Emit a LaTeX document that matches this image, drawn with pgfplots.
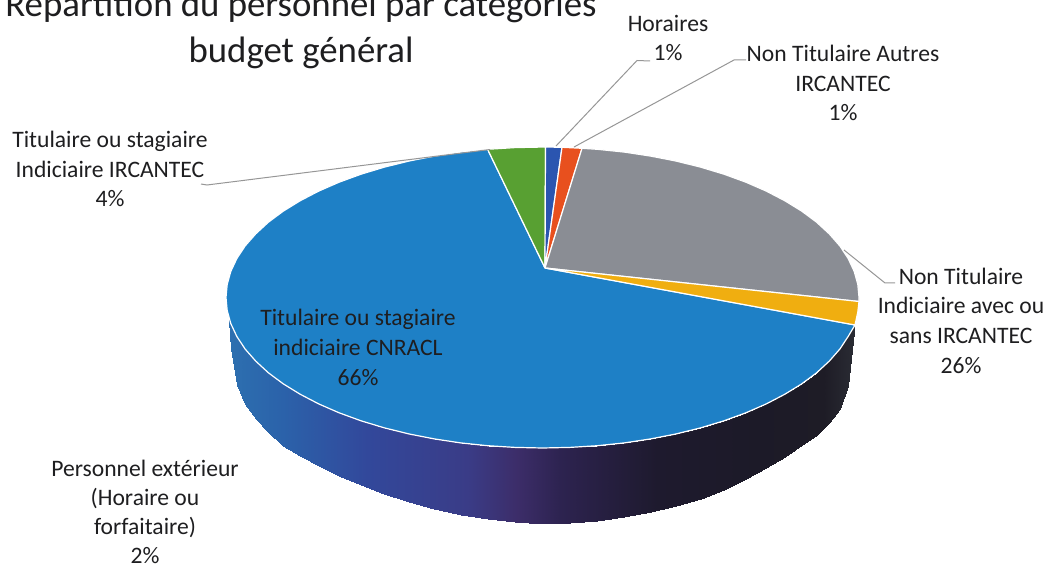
\documentclass[border=0pt]{standalone}
\usepackage{pgfplots}
\pgfplotsset{compat=1.18}
\usepackage{fontspec}
\setmainfont{Carlito}
\definecolor{topblue}{RGB}{30,128,198}
\definecolor{green3d}{RGB}{88,160,50}
\definecolor{hblue}{RGB}{43,85,176}
\definecolor{red3d}{RGB}{232,80,30}
\definecolor{gray3d}{RGB}{138,141,148}
\definecolor{yellow3d}{RGB}{240,174,16}
\definecolor{leader}{RGB}{150,150,150}
\definecolor{ink}{RGB}{30,30,32}
\pgfplotsset{colormap={side}{rgb255(0pt)=(45,112,176); rgb255(55pt)=(43,98,170); rgb255(139pt)=(50,72,155); rgb255(239pt)=(58,60,135); rgb255(289pt)=(60,45,105); rgb255(332pt)=(45,35,80); rgb255(429pt)=(30,26,46); rgb255(529pt)=(28,26,40); rgb255(596pt)=(30,28,38); rgb255(627pt)=(42,44,52)}}
\newcommand{\lab}{\fontsize{11.8}{14.8}\selectfont}
\begin{document}
\begin{tikzpicture}
\path[use as bounding box,clip] (0,0) rectangle (524pt,283pt);
\begin{axis}[at={(0,0)},anchor=south west,width=524pt,height=283pt,scale only axis,hide axis,
  xmin=0,xmax=1048,ymin=0,ymax=566,y dir=reverse,colormap name=side,point meta min=228,point meta max=855]
% side wall
\addplot[patch,patch type=rectangle,shader=interp,point meta=x] coordinates {
(228.5,317)(230.8,323.6)(230.8,349)(228.5,320)
(230.8,323.6)(236.8,336.4)(236.8,385)(230.8,349)
(236.8,336.4)(245.1,349)(245.1,404)(236.8,385)
(245.1,349)(255.7,361.1)(255.7,419)(245.1,404)
(255.7,361.1)(268.4,372.8)(268.4,432)(255.7,419)
(268.4,372.8)(283.2,383.8)(283.2,446)(268.4,432)
(283.2,383.8)(300.1,394.2)(300.1,456)(283.2,446)
(300.1,394.2)(318.7,403.9)(318.7,466)(300.1,456)
(318.7,403.9)(339.1,412.8)(339.1,476)(318.7,466)
(339.1,412.8)(361,420.8)(361,485)(339.1,476)
(361,420.8)(384.2,427.8)(384.2,494)(361,485)
(384.2,427.8)(408.7,433.9)(408.7,502)(384.2,494)
(408.7,433.9)(434.3,438.9)(434.3,509)(408.7,502)
(434.3,438.9)(460.6,442.9)(460.6,515)(434.3,509)
(460.6,442.9)(487.6,445.7)(487.6,519)(460.6,515)
(487.6,445.7)(514.9,447.4)(514.9,522)(487.6,519)
(514.9,447.4)(542.5,448)(542.5,523.5)(514.9,522)
(542.5,448)(570.1,447.4)(570.1,523)(542.5,523.5)
(570.1,447.4)(597.4,445.7)(597.4,520.5)(570.1,523)
(597.4,445.7)(624.4,442.9)(624.4,517)(597.4,520.5)
(624.4,442.9)(650.7,438.9)(650.7,512)(624.4,517)
(650.7,438.9)(676.3,433.9)(676.3,506)(650.7,512)
(676.3,433.9)(700.8,427.8)(700.8,498.5)(676.3,506)
(700.8,427.8)(724,420.8)(724,490)(700.8,498.5)
(724,420.8)(745.9,412.8)(745.9,479)(724,490)
(745.9,412.8)(766.3,403.9)(766.3,468)(745.9,479)
(766.3,403.9)(784.9,394.2)(784.9,457)(766.3,468)
(784.9,394.2)(801.8,383.8)(801.8,445)(784.9,457)
(801.8,383.8)(816.6,372.8)(816.6,435)(801.8,445)
(816.6,372.8)(829.3,361.1)(829.3,423)(816.6,435)
(829.3,361.1)(839.9,349)(839.9,409)(829.3,423)
(839.9,349)(848.2,336.4)(848.2,386)(839.9,409)
(848.2,336.4)(854.2,323.6)(854.2,332)(848.2,386)
};
% top: CNRACL 66%
\addplot[fill=topblue,draw=white,line width=0.6pt] coordinates {
(545,268)(855,325)(848.2,336.4)(839.9,349)(829.3,361.1)(816.6,372.8)(801.8,383.8)(784.9,394.2)(766.3,403.9)(745.9,412.8)(724,420.8)(700.8,427.8)(676.3,433.9)(650.7,438.9)(624.4,442.9)(597.4,445.7)(570.1,447.4)(542.5,448)(514.9,447.4)(487.6,445.7)(460.6,442.9)(434.3,438.9)(408.7,433.9)(384.2,427.8)(361,420.8)(339.1,412.8)(318.7,403.9)(300.1,394.2)(283.2,383.8)(268.4,372.8)(255.7,361.1)(245.1,349)(236.8,336.4)(230.8,323.6)(227.2,310.6)(226,297.5)(227.2,284.4)(230.8,271.4)(236.8,258.6)(245.1,246)(255.7,233.9)(268.4,222.2)(283.2,211.2)(300.1,200.8)(318.7,191.1)(339.1,182.2)(361,174.2)(384.2,167.2)(408.7,161.1)(434.3,156.1)(460.6,152.1)(487.6,149.3)(545,268)};
% IRCANTEC 4%
\addplot[fill=green3d,draw=white,line width=0.6pt] coordinates {(545,268)(487.6,149.3)(514.9,147.6)(545.5,147)(545,268)};
% Horaires 1%
\addplot[fill=hblue,draw=white,line width=0.6pt] coordinates {(545,268)(545.5,147)(562,147.3)(545,268)};
% Non titulaire autres 1%
\addplot[fill=red3d,draw=white,line width=0.6pt] coordinates {(545,268)(562,147.3)(582,148.3)(545,268)};
% Non titulaire indiciaire 26%
\addplot[fill=gray3d,draw=white,line width=0.6pt] coordinates {
(545,268)(582,148.3)(597.4,149.3)(624.4,152.1)(650.7,156.1)(676.3,161.1)(700.8,167.2)(724,174.2)(745.9,182.2)(766.3,191.1)(784.9,200.8)(801.8,211.2)(816.6,222.2)(829.3,233.9)(839.9,246)(848.2,258.6)(854.2,271.4)(857.8,284.4)(859,297.5)(859,301.5)(545,268)};
% Personnel exterieur 2%
\addplot[fill=yellow3d,draw=white,line width=0.6pt] coordinates {(545,268)(859,301.5)(857.8,312)(855,325)(545,268)};
% leaders
\addplot[leader,line width=0.5pt] coordinates {(556,146)(637,60.5)(650,61)};
\addplot[leader,line width=0.5pt] coordinates {(574,147)(734,60)(746,60)};
\addplot[leader,line width=0.5pt] coordinates {(201,184)(207,185)(390,162)(490,149.5)};
\addplot[leader,line width=0.5pt] coordinates {(844,250)(885,283)(895,283)};
% texts
\node[anchor=base,align=center,text=ink,font=\fontsize{18.4}{23}\selectfont] at (axis cs:301,63) {Répartition du personnel par catégories\\budget général};
\node[anchor=base,align=center,text=ink,font=\lab] at (axis cs:668,61) {Horaires\\1\%};
\node[anchor=base,align=center,text=ink,font=\lab] at (axis cs:843,121) {Non Titulaire Autres\\IRCANTEC\\1\%};
\node[anchor=base,align=center,text=ink,font=\lab] at (axis cs:110,207) {Titulaire ou stagiaire\\Indiciaire IRCANTEC\\4\%};
\node[anchor=base,align=center,text=ink,font=\lab] at (axis cs:358,385) {Titulaire ou stagiaire\\indiciaire CNRACL\\66\%};
\node[anchor=base,align=center,text=ink,font=\fontsize{11.8}{14.5}\selectfont] at (axis cs:145,563) {Personnel extérieur\\(Horaire ou\\forfaitaire)\\2\%};
\node[anchor=base,align=center,text=ink,font=\lab] at (axis cs:961,373) {Non Titulaire\\Indiciaire avec ou\\sans IRCANTEC\\26\%};
\end{axis}
\end{tikzpicture}
\end{document}
